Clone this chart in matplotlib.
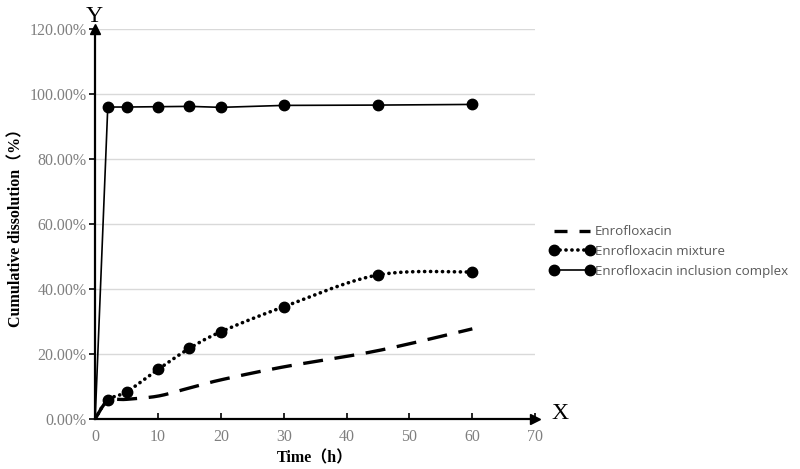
import numpy as np
import matplotlib.pyplot as plt

# data
time_h = [0, 2, 5, 10, 15, 20, 30, 45, 60]
enro = [0.0, 0.055, 0.060, 0.070, 0.095, 0.120, 0.160, 0.210, 0.277]
enro_mix = [0.0, 0.058, 0.083, 0.152, 0.217, 0.268, 0.345, 0.443, 0.452]
enro_inc = [0.0, 0.960, 0.960, 0.961, 0.962, 0.959, 0.965, 0.966, 0.968]
y_ticks = [0, 0.2, 0.4, 0.6, 0.8, 1.0, 1.2]
x_ticks = [0, 10, 20, 30, 40, 50, 60, 70]


def smooth(x, y, steps=30):
    # excel-style smoothed line: bezier through points, control at 1/6 tangent
    x = np.asarray(x, float)
    y = np.asarray(y, float)
    px = np.concatenate([[x[0]], x, [x[-1]]])
    py = np.concatenate([[y[0]], y, [y[-1]]])
    xs, ys = [], []
    t = np.linspace(0, 1, steps)
    for i in range(len(x) - 1):
        p0 = np.array([px[i + 1], py[i + 1]])
        p3 = np.array([px[i + 2], py[i + 2]])
        c1 = p0 + (np.array([px[i + 2], py[i + 2]]) - np.array([px[i], py[i]])) / 6
        c2 = p3 - (np.array([px[i + 3], py[i + 3]]) - np.array([px[i + 1], py[i + 1]])) / 6
        b = ((1 - t) ** 3)[:, None] * p0 + (3 * (1 - t) ** 2 * t)[:, None] * c1 \
            + (3 * (1 - t) * t ** 2)[:, None] * c2 + (t ** 3)[:, None] * p3
        xs.extend(b[:, 0])
        ys.extend(b[:, 1])
    return xs, ys


serif = ['Liberation Serif', 'Noto Sans CJK SC']
dash_style = dict(color='black', lw=2.4, dashes=(6, 3.5))
dot_style = dict(color='black', lw=2.6, ls=(0, (0.05, 1.6)), dash_capstyle='round')

fig = plt.figure(figsize=(8, 4.69), dpi=100)
ax = fig.add_axes([0.119, 0.107, 0.55, 0.831])

for yv in y_ticks[1:]:
    ax.axhline(yv, color='#d9d9d9', lw=1, zorder=0)

sx, sy = smooth(time_h, enro)
ax.plot(sx, sy, zorder=2, **dash_style)
sx, sy = smooth(time_h, enro_mix)
ax.plot(sx, sy, zorder=2, **dot_style)
ax.plot(time_h[1:], enro_mix[1:], 'o', color='black', ms=7.5, zorder=3)
ax.plot(time_h, enro_inc, color='black', lw=1.2, marker='o', ms=7.5,
        markevery=list(range(1, len(time_h))), zorder=3)

# legend proxies
h1, = ax.plot([], [], color='black', lw=2.4, dashes=(3.9, 3.6))
h2, = ax.plot([], [], marker='o', ms=7.5, **dot_style)
h3, = ax.plot([], [], color='black', lw=1.2, marker='o', ms=7.5)
fig.legend([h1, h2, h3], ['Enrofloxacin', 'Enrofloxacin mixture', 'Enrofloxacin inclusion complex'],
           loc='upper left', bbox_to_anchor=(0.672, 0.545), frameon=False, numpoints=2,
           handlelength=3.3, handletextpad=0.1, labelspacing=0.5,
           prop={'family': 'Open Sans', 'size': 9.6}, labelcolor='#595959')

ax.set_xlim(0, 70)
ax.set_ylim(0, 1.2)
ax.set_xticks(x_ticks)
ax.set_yticks(y_ticks)
ax.set_xticklabels([str(v) for v in x_ticks])
ax.set_yticklabels([f'{v * 100:.2f}%' for v in y_ticks])
for lab in ax.get_xticklabels() + ax.get_yticklabels():
    lab.set_family('Liberation Serif')
    lab.set_color('#7f7f7f')
    lab.set_fontsize(11.5)
ax.tick_params(axis='x', direction='in', length=4, width=1.2, pad=7)
ax.tick_params(axis='y', direction='out', length=4, width=1.2, pad=2)

for s in ['top', 'right']:
    ax.spines[s].set_visible(False)
for s in ['left', 'bottom']:
    ax.spines[s].set_linewidth(1.6)

# arrow heads on the axes
ax.plot(70, 0, marker='>', color='black', ms=7, clip_on=False)
ax.plot(0, 1.2, marker='^', color='black', ms=7, clip_on=False)

fig.text(0.118, 0.965, 'Y', family='Liberation Serif', fontsize=17, ha='center', va='center')
fig.text(0.70, 0.118, 'X', family='Liberation Serif', fontsize=17, ha='center', va='center')

ax.set_xlabel('Time（h）', family=serif, fontsize=11.5, fontweight='bold', labelpad=4)
ax.set_ylabel('Cumulative dissolution（%）', family=serif, fontsize=11.5, fontweight='bold', labelpad=4)

fig.savefig('out.png', dpi=100)
